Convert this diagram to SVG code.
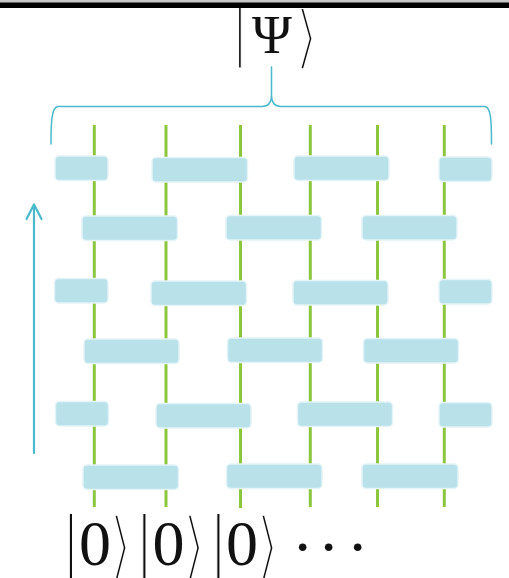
<svg xmlns="http://www.w3.org/2000/svg" width="509" height="578" viewBox="0 0 509 578">
<style>
.wire{stroke:#8cc63f;stroke-width:3}
.gate{fill:#b8e1ea;stroke:#e4f4f8;stroke-width:1.5}
.cy{fill:none;stroke:#4bb9cc;stroke-linecap:round;stroke-linejoin:round}
.m{font-family:"Liberation Serif","DejaVu Serif",serif;fill:#111}
.bar{font-family:"Liberation Serif","DejaVu Serif",serif;fill:#111;stroke:#ffffff;stroke-width:1}
.ang{font-family:"DejaVu Sans","DejaVu Serif",sans-serif;fill:#111;stroke:#ffffff;stroke-width:3.5;stroke-linejoin:round}
</style>
<rect x="0" y="0" width="509" height="578" fill="#ffffff"/>
<g id="psi">
<text class="bar" transform="translate(234.5,54.3) scale(1,1.24)" font-size="54">|</text>
<text class="m" x="272" y="53" font-size="54" text-anchor="middle">Ψ</text>
<text class="ang" transform="translate(294,61) scale(1,1.11)" font-size="64">⟩</text>
</g>
<rect x="0" y="0" width="509" height="3" fill="#c8c8c8"/>
<rect x="0" y="2.5" width="509" height="5.5" fill="#000000"/>
<g id="wires">
<line class="wire" x1="94.3" y1="125" x2="94.3" y2="507"/>
<line class="wire" x1="166" y1="125" x2="166" y2="507"/>
<line class="wire" x1="240.5" y1="125" x2="240.5" y2="508"/>
<line class="wire" x1="310.3" y1="125" x2="310.3" y2="507"/>
<line class="wire" x1="377.5" y1="125" x2="377.5" y2="507"/>
<line class="wire" x1="444.3" y1="125" x2="444.3" y2="507"/>
</g>
<g id="gates">
<rect class="gate" x="55" y="156" width="53" height="24.5" rx="4"/>
<rect class="gate" x="152" y="157.5" width="95.5" height="24.5" rx="4"/>
<rect class="gate" x="294" y="156" width="95" height="24.5" rx="4"/>
<rect class="gate" x="439" y="157" width="53" height="24.5" rx="4"/>
<rect class="gate" x="82" y="216" width="95.5" height="24.5" rx="4"/>
<rect class="gate" x="226" y="215.5" width="95.5" height="24.5" rx="4"/>
<rect class="gate" x="362" y="215.5" width="95" height="24.5" rx="4"/>
<rect class="gate" x="54.5" y="278.5" width="53.5" height="24.5" rx="4"/>
<rect class="gate" x="151" y="281" width="95.5" height="24.5" rx="4"/>
<rect class="gate" x="293" y="280.5" width="95" height="24.5" rx="4"/>
<rect class="gate" x="439" y="279.5" width="53" height="24.5" rx="4"/>
<rect class="gate" x="84" y="339" width="95" height="24.5" rx="4"/>
<rect class="gate" x="227.5" y="338" width="95" height="24.5" rx="4"/>
<rect class="gate" x="363.5" y="338.5" width="95" height="24.5" rx="4"/>
<rect class="gate" x="55.5" y="401.5" width="53" height="24.5" rx="4"/>
<rect class="gate" x="156" y="403.5" width="95" height="24.5" rx="4"/>
<rect class="gate" x="297.5" y="402" width="95" height="24.5" rx="4"/>
<rect class="gate" x="439" y="402.5" width="53" height="24.5" rx="4"/>
<rect class="gate" x="83" y="465" width="95.5" height="24.5" rx="4"/>
<rect class="gate" x="226.5" y="464" width="95.5" height="24.5" rx="4"/>
<rect class="gate" x="362" y="464" width="96" height="24.5" rx="4"/>
</g>
<g id="connectors">
<path class="cy" stroke-width="1.5" d="M51,144 C51,122 51.5,107 58,106.5 L262,106.5 C268,106.5 271.5,103 271.5,95 L271.5,67 M271.5,95 C271.5,103 275,106.5 281,106.5 L485,106.5 C491,107 491.5,122 491.5,144"/>
<line class="cy" stroke-width="2.2" x1="34" y1="453" x2="34" y2="205"/>
<polyline class="cy" stroke-width="2.2" points="26.5,219 34,204.5 41.5,219"/>
</g>
<g id="kets">
<text class="bar" transform="translate(64.5,565) scale(1,1.15)" font-size="64">|</text>
<text class="m" x="79" y="565" font-size="64">0</text>
<text class="ang" transform="translate(108,572) scale(1,1.2)" font-size="64">⟩</text>
<text class="bar" transform="translate(138,565) scale(1,1.15)" font-size="64">|</text>
<text class="m" x="152.5" y="565" font-size="64">0</text>
<text class="ang" transform="translate(181.5,572) scale(1,1.2)" font-size="64">⟩</text>
<text class="bar" transform="translate(212,565) scale(1,1.15)" font-size="64">|</text>
<text class="m" x="226" y="565" font-size="64">0</text>
<text class="ang" transform="translate(255,572) scale(1,1.2)" font-size="64">⟩</text>
<text class="m" font-size="64" y="568"><tspan x="292">·</tspan><tspan x="318">·</tspan><tspan x="347">·</tspan></text>
</g>
</svg>
